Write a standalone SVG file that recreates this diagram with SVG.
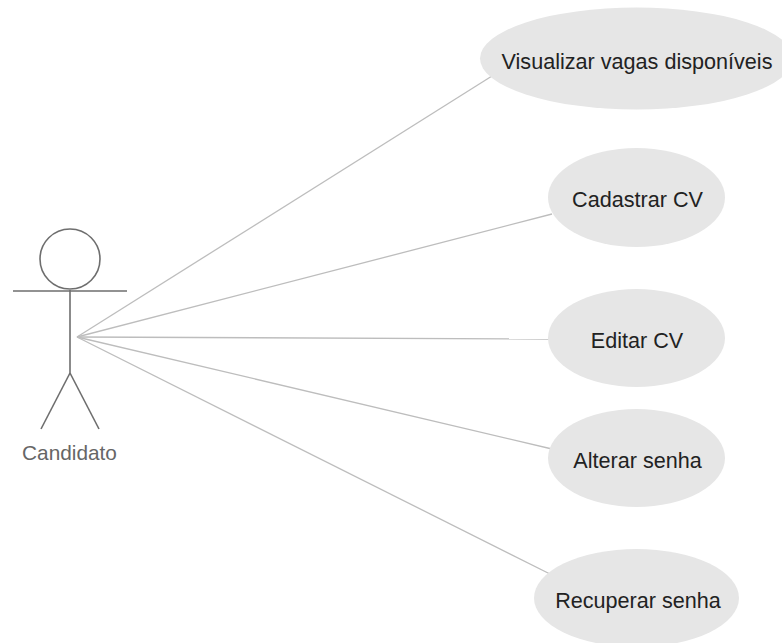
<svg xmlns="http://www.w3.org/2000/svg" width="782" height="643" viewBox="0 0 782 643">
<style>
.uc{fill:#e6e6e6;stroke:none}
.t{font-family:"Liberation Sans",Arial,sans-serif;font-size:21.6px;fill:#222;text-anchor:middle}
.l{font-family:"Liberation Sans",Arial,sans-serif;font-size:20.8px;fill:#666;text-anchor:middle}
.c{stroke:#bdbdbd;stroke-width:1.3;fill:none}
.a{stroke:#6e6e6e;stroke-width:1.6;fill:none}
</style>
<rect width="782" height="643" fill="#fff"/>
<g id="connectors">
<line class="c" x1="77" y1="337" x2="492" y2="76"/>
<line class="c" x1="77" y1="337" x2="552" y2="214"/>
<line class="c" x1="77" y1="337" x2="550" y2="339"/>
<line class="c" x1="77" y1="337" x2="552" y2="449"/>
<line class="c" x1="77" y1="337" x2="552" y2="575"/>
</g>
<g id="actor">
<circle class="a" cx="70" cy="259" r="30"/>
<line class="a" x1="13" y1="291" x2="127" y2="291"/>
<line class="a" x1="70" y1="290" x2="70" y2="373"/>
<line class="a" x1="70" y1="373" x2="41" y2="429"/>
<line class="a" x1="70" y1="373" x2="99" y2="429"/>
<text class="l" x="69.5" y="460">Candidato</text>
</g>
<g id="uc1"><ellipse class="uc" cx="636.5" cy="58.5" rx="156.5" ry="51"/><text class="t" x="637" y="69">Visualizar vagas disponíveis</text></g>
<g id="uc2"><ellipse class="uc" cx="636.5" cy="197.5" rx="88.5" ry="49.5"/><text class="t" x="637.5" y="207">Cadastrar CV</text></g>
<g id="uc3"><ellipse class="uc" cx="636.5" cy="338" rx="88.5" ry="49"/><text class="t" x="637" y="348">Editar CV</text></g>
<g id="uc4"><ellipse class="uc" cx="636.5" cy="458" rx="88.5" ry="49"/><text class="t" x="637.5" y="468">Alterar senha</text></g>
<g id="uc5"><ellipse class="uc" cx="636.5" cy="598" rx="102.500" ry="49"/><text class="t" x="638" y="608">Recuperar senha</text></g>
</svg>
